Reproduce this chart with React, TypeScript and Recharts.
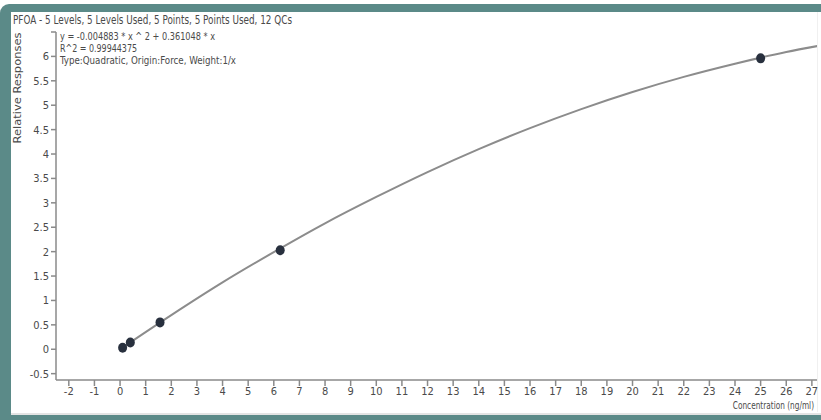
import React from 'react';
import { ComposedChart, Line, Scatter, XAxis, YAxis } from 'recharts';

// Calibration standards (concentration ng/ml, relative response)
const stdConc = [0.1, 0.4, 1.56, 6.25, 25];
const stdResp = [0.03, 0.14, 0.55, 2.03, 5.96];

// Fitted curve
const curveConc = [0, 2, 4, 6, 8, 10, 12, 14, 16, 18, 20, 22, 24, 26, 27.3];
const curveResp = [0, 0.70, 1.37, 1.99, 2.58, 3.12, 3.63, 4.10, 4.53, 4.92, 5.27, 5.58, 5.85, 6.09, 6.22];

const xTicks = [-2, -1, 0, 1, 2, 3, 4, 5, 6, 7, 8, 9, 10, 11, 12, 13, 14, 15, 16, 17, 18, 19, 20, 21, 22, 23, 24, 25, 26, 27];
const yTicks = [-0.5, 0, 0.5, 1, 1.5, 2, 2.5, 3, 3.5, 4, 4.5, 5, 5.5, 6, 6.5];

const titleLine = 'PFOA - 5 Levels, 5 Levels Used, 5 Points, 5 Points Used, 12 QCs';
const eqLine = 'y = -0.004883 * x ^ 2  + 0.361048 * x';
const r2Line = 'R^2 = 0.99944375';
const typeLine = 'Type:Quadratic, Origin:Force, Weight:1/x';
const xLabel = 'Concentration (ng/ml)';
const yLabel = 'Relative Responses';

const points = stdConc.map((x, i) => ({ x, y: stdResp[i] }));
const curve = curveConc.map((x, i) => ({ x, y: curveResp[i] }));

const FONT = '"Liberation Sans Narrow", "DejaVu Sans Condensed", "Liberation Sans", sans-serif';
const TEXT = '#4a4a4a';
const AXIS = '#8a8a8a';

export default function App() {
  return (
    <div style={{ position: 'absolute', left: 0, top: 0, width: 821, height: 420, background: '#fff', overflow: 'hidden' }}>
      <div style={{ position: 'absolute', left: 0, top: 4, width: 821, height: 416, background: '#5b8a88', borderTopLeftRadius: 9 }} />
      <div style={{ position: 'absolute', left: 11, top: 12, width: 810, height: 403, background: '#fff' }} />
      <div style={{ position: 'absolute', left: 11, top: 413, width: 810, height: 2, background: '#e4e4e4' }} />
      <div style={{ position: 'absolute', left: 817, top: 12, width: 1, height: 400, background: '#f0f0f0' }} />
      <div style={{ position: 'absolute', left: 0, top: 0 }}>
        <ComposedChart width={821} height={420} margin={{ top: 32, right: 4, bottom: 10, left: 0 }}>
          <XAxis
            type="number"
            dataKey="x"
            domain={[-2.5, 27.2]}
            ticks={xTicks}
            interval={0}
            allowDataOverflow
            stroke={AXIS}
            strokeWidth={1.5}
            tickSize={6}
            tickMargin={1}
            height={30}
            tick={{ fontSize: 11, fill: TEXT, fontFamily: FONT }}
          />
          <YAxis
            type="number"
            dataKey="y"
            domain={[-0.63, 6.5]}
            ticks={yTicks}
            interval={0}
            allowDataOverflow
            width={56}
            stroke={AXIS}
            strokeWidth={1.5}
            tickSize={5}
            tickMargin={2}
            tickFormatter={(v: number) => (v === 6.5 ? '' : String(v))}
            tick={{ fontSize: 11, fill: TEXT, fontFamily: FONT }}
          />
          <Line
            data={curve}
            dataKey="y"
            type="monotone"
            stroke="#8c8c8c"
            strokeWidth={2}
            dot={false}
            activeDot={false}
            isAnimationActive={false}
          />
          <Scatter
            data={points}
            dataKey="y"
            fill="#28303e"
            isAnimationActive={false}
            shape={(p: any) => <ellipse cx={p.cx} cy={p.cy} rx={4.5} ry={5} fill="#28303e" />}
          />
        </ComposedChart>
      </div>
      <svg width={821} height={420} style={{ position: 'absolute', left: 0, top: 0, pointerEvents: 'none' }}>
        <text x={13} y={24} fontSize={12} fill={TEXT} fontFamily={FONT} textLength={279} lengthAdjust="spacingAndGlyphs">{titleLine}</text>
        <text x={60} y={40} fontSize={10.5} fill={TEXT} fontFamily={FONT} textLength={155} lengthAdjust="spacingAndGlyphs">{eqLine}</text>
        <text x={60} y={52} fontSize={10.5} fill={TEXT} fontFamily={FONT} textLength={77} lengthAdjust="spacingAndGlyphs">{r2Line}</text>
        <text x={60} y={64} fontSize={10.5} fill={TEXT} fontFamily={FONT} textLength={176} lengthAdjust="spacingAndGlyphs">{typeLine}</text>
        <g transform="translate(814 409) scale(0.78 1)">
          <text x={0} y={0} fontSize={10.5} fill={TEXT} fontFamily={FONT} textAnchor="end">{xLabel}</text>
        </g>
        <text x={0} y={0} fontSize={11} fill={TEXT} fontFamily={FONT} textAnchor="middle" textLength={111} lengthAdjust="spacingAndGlyphs" transform="translate(21 88) rotate(-90)">{yLabel}</text>
      </svg>
    </div>
  );
}
